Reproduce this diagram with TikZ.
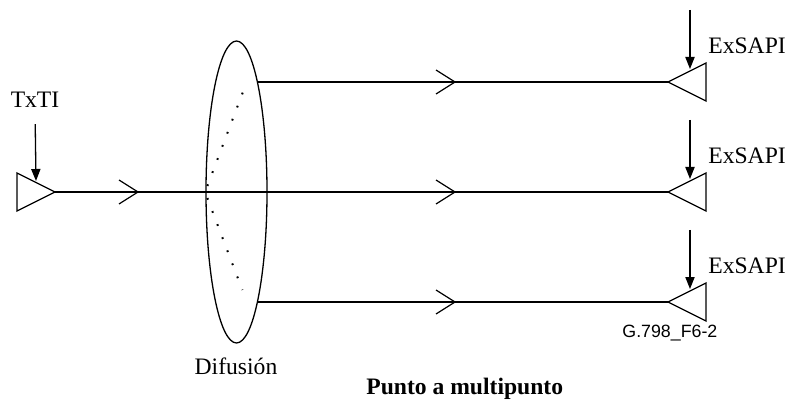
\documentclass[tikz,border=0pt]{standalone}
\usepackage{fontspec}
\setmainfont{Liberation Serif}
\setsansfont{Liberation Sans}
\usetikzlibrary{arrows.meta, shapes.geometric}

\begin{document}
\begin{tikzpicture}[x=0.5pt, y=-0.5pt,
    lbl/.style={font=\fontsize{11.8}{14}\selectfont, inner sep=0pt},
    wire/.style={line width=0.65pt},
    feed/.style={line width=0.65pt, -{Triangle[length=6pt, width=4.6pt]}},
    chev/.style={line width=0.6pt},
    dots/.style={line width=1pt, dash pattern=on 0.9pt off 6.1pt}]
  \useasboundingbox (0,0) rectangle (788,401);
  % source side
  \coordinate (src) at (55,192);
  \draw[wire] (src) -- (17,173) -- (17,211) -- cycle;
  \node[lbl] (txti) at (35,100) {TxTI};
  \coordinate (txin) at (36,181);
  \draw[feed, shorten <=8pt] (txti.south) -- (txin);
  % broadcast point
  \node[draw, wire, ellipse, inner sep=0pt, minimum width=30.5pt, minimum height=151pt] (dif) at (236.5,192) {};
  \draw[dots] ([shift={(2,-6)}]dif.west) -- ([shift={(41,-109)}]dif.west);
  \draw[dots] ([shift={(2,6)}]dif.west) -- ([shift={(37,98)}]dif.west);
  \node[lbl] (difu) at (236,366) {Difusión};
  % sinks
  \foreach \c/\n in {82/a, 192/b, 302/c} {
    \coordinate (sink\n) at (668,\c);
    \draw[wire] (sink\n) -- (706,\c-19) -- (706,\c+19) -- cycle;
    \coordinate (ex\n) at (690,\c-13);
    \draw[feed] (690,\c-72) -- (ex\n);
    \node[lbl, anchor=west] (exsapi\n) at (708,\c-36) {ExSAPI};
  }
  \draw[wire] (src) -- (sinkb);
  \draw[wire] (sinka -| dif.79) -- (sinka);
  \draw[wire] (sinkc -| dif.-79) -- (sinkc);
  % direction marks
  \foreach \p in {(138,192), (455,82), (455,192), (455,302)} {
    \draw[chev] \p ++(-19,-12) -- \p -- ++(-19,12);
  }
  \node[font=\sffamily\fontsize{8.9}{10}\selectfont, inner sep=0pt, anchor=west] (fig) at (622,333) {G.798\_F6-2};
  \node[lbl, font=\bfseries\fontsize{11.8}{14}\selectfont, anchor=west] (title) at (366,389) {Punto a multipunto};
\end{tikzpicture}
\end{document}
